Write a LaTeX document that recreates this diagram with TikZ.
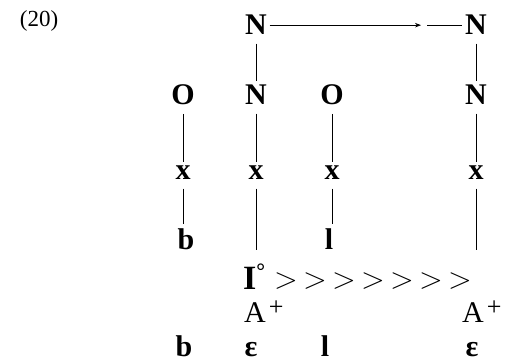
\documentclass[tikz,border=0pt]{standalone}
\usepackage{fontspec}
\usepackage{graphicx}
\setmainfont{Liberation Serif}
\usetikzlibrary{arrows.meta}

\newcommand{\plusmark}{\hspace{3pt}\raisebox{7pt}{\fontsize{26}{28}\selectfont +}}

\begin{document}
\begin{tikzpicture}[x=1pt,y=1pt,
    seg/.style={font=\fontsize{30}{32}\selectfont\bfseries, inner sep=2.5pt, anchor=base},
    tier/.style={font=\fontsize{30}{32}\selectfont, inner sep=0pt, anchor=base west},
    link/.style={line width=0.7pt, shorten <=6pt, shorten >=2pt}]

    \useasboundingbox (0,0) rectangle (508,361);

    \node (ex) [font=\fontsize{23}{25}\selectfont, anchor=base] at (39,334) {(20)};

    % upper tier: N spreads rightwards
    \node (nTopA) [seg] at (256,326) {N};
    \node (nTopB) [seg] at (476,326) {N};
    \coordinate (arrEnd) at (421,334);
    \coordinate (dashStart) at (427,334);
    \draw[line width=0.7pt,-{Stealth[length=6pt,width=4.5pt]}] (nTopA.east) -- (nTopA.east -| arrEnd);
    \draw[line width=0.7pt] (nTopB.west -| dashStart) -- (nTopB.west);

    % skeleton: roots and x slots
    \foreach \c/\lbl/\xx in {1/O/183, 2/N/256, 3/O/332, 4/N/476} {
        \node (root\c) [seg] at (\xx,256) {\lbl};
        \node (slot\c) [seg] at (\xx,181) {x};
        \draw[link] (root\c) -- (slot\c);
    }
    \draw[link] (nTopA) -- (root2);
    \draw[link] (nTopB) -- (root4);

    % segments under the slots
    \node (segB) [seg] at (186,111) {b};
    \node (segL) [seg] at (329,111) {l};
    \coordinate (endA) at (256,111);
    \coordinate (endB) at (476,111);
    \draw[link] (slot1.south) -- (slot1.south |- segB.north);
    \draw[link] (slot3.south) -- (slot3.south |- segL.north);
    \draw[link, shorten >=0pt] (slot2.south) -- (endA);
    \draw[link, shorten >=0pt] (slot4.south) -- (endB);

    % element tiers
    \node (iCirc) [tier, font=\fontsize{34}{36}\selectfont\bfseries] at (243,71)
        {I\raisebox{11pt}{\fontsize{22}{24}\selectfont\textdegree}};
    \foreach \i in {1,...,7}
        \node (gt\i) [font=\fontsize{30}{32}\selectfont, inner sep=0pt]
            at (286+29*\i-29,80) {\scalebox{1.25}[1.2]{$>$}};
    \node (aA) [tier] at (244,38) {A\plusmark};
    \node (aB) [tier] at (462,38) {A\plusmark};

    % surface forms
    \foreach \xx/\lbl [count=\i] in {184/b, 251/ε, 325/l, 472/ε}
        \node (out\i) [seg, inner sep=1pt] at (\xx,5) {\lbl};

\end{tikzpicture}
\end{document}
